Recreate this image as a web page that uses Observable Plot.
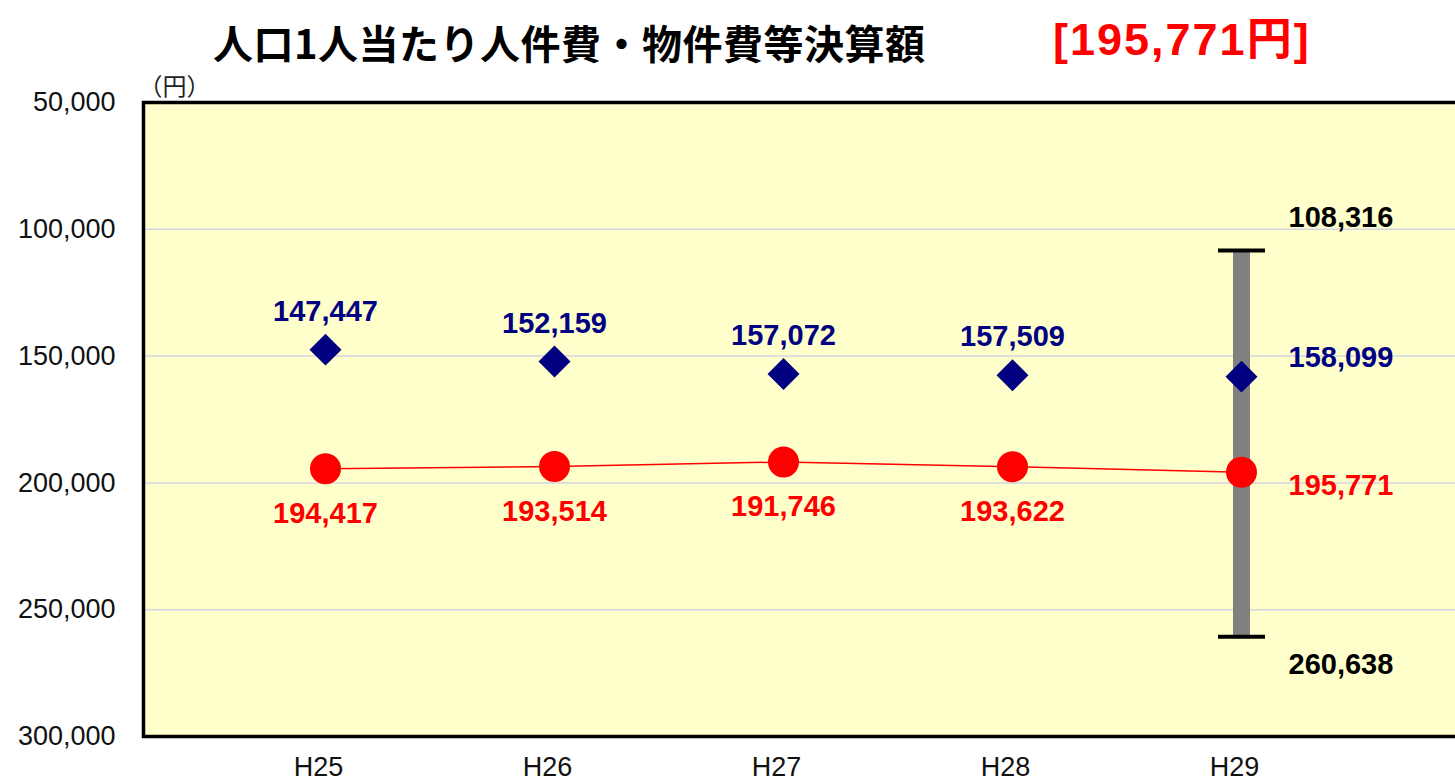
<!DOCTYPE html>
<html>
<head>
<meta charset="utf-8">
<script src="https://cdn.jsdelivr.net/npm/d3@7"></script>
<script src="https://cdn.jsdelivr.net/npm/@observablehq/plot@0.6"></script>
<style>
  body { margin: 0; background: #ffffff; }
  #wrap { width: 1455px; height: 784px; overflow: hidden; position: relative; }
  #header { position: relative; width: 1455px; height: 50px; }
  #title { position: absolute; left: 213px; top: 21px; font: bold 40px/42px "Noto Sans CJK JP", sans-serif; color: #000; white-space: nowrap; letter-spacing: 0.5px; }
  #sub { position: absolute; left: 1053px; top: 16px; font: bold 45px/48px "Liberation Sans", "Noto Sans CJK JP", sans-serif; color: #ff0000; white-space: nowrap; letter-spacing: 2px; }
  #chart svg { display: block; }
</style>
</head>
<body>
<div id="wrap">
  <div id="header">
    <div id="title">人口1人当たり人件費・物件費等決算額</div>
    <div id="sub">[195,771円]</div>
  </div>
  <div id="chart"></div>
</div>
<script>
// ---- data ----
const years = ["H25", "H26", "H27", "H28", "H29"];
const avgValues = [147447, 152159, 157072, 157509, 158099];   // navy diamonds
const cityValues = [194417, 193514, 191746, 193622, 195771];  // red circles
const rangeYears = ["H29"];
const rangeMin = [108316];
const rangeMax = [260638];
const yTicks = [50000, 100000, 150000, 200000, 250000, 300000];
const gridTicks = [100000, 150000, 200000, 250000];
const unitLabel = ["（円）"];

const fmt = d3.format(",");
const avg = years.map((y, i) => ({year: y, value: avgValues[i]}));
const city = years.map((y, i) => ({year: y, value: cityValues[i]}));
const range = rangeYears.map((y, i) => ({year: y, min: rangeMin[i], max: rangeMax[i]}));
const lastYear = years[years.length - 1];
const notLast = d => d.year !== lastYear;
const isLast = d => d.year === lastYear;

const capSymbol = { draw(context) { context.rect(-23.5, -2, 47, 4); } };

const numFont = "'Liberation Sans', Arial, sans-serif";

const chart = Plot.plot({
  width: 1455,
  height: 734,
  marginTop: 52,
  marginBottom: 48,
  marginLeft: 143,
  marginRight: -3,
  style: { fontFamily: numFont, fontSize: "27px", color: "#111", background: "transparent" },
  x: { type: "point", domain: years, range: [323, 1242], padding: 0 },
  y: { domain: [50000, 300000], reverse: true },
  marks: [
    Plot.frame({ fill: "#ffffcc", stroke: "none" }),
    Plot.gridY(gridTicks, { stroke: "#d4d4e4", strokeOpacity: 1, strokeWidth: 1.5 }),
    Plot.frame({ stroke: "#000", strokeWidth: 3.5 }),
    Plot.axisY(yTicks, { tickSize: 0, tickPadding: 28, tickFormat: fmt, label: null, fontSize: 27, fill: "#111" }),
    Plot.axisX({ tickSize: 0, tickPadding: 20, dx: -7, label: null, fontSize: 27, fill: "#111" }),
    Plot.text(unitLabel, { frameAnchor: "top-left", dx: -5, dy: -25, textAnchor: "start", fontSize: 24, fill: "#222", fontFamily: "'Noto Sans CJK JP', sans-serif" }),
    // range bar
    Plot.ruleX(range, { x: "year", y1: "min", y2: "max", stroke: "#808080", strokeWidth: 17 }),
    Plot.dot(range, { x: "year", y: "min", symbol: capSymbol, fill: "#000", stroke: "none" }),
    Plot.dot(range, { x: "year", y: "max", symbol: capSymbol, fill: "#000", stroke: "none" }),
    Plot.text(range, { x: "year", y: "min", text: d => fmt(d.min), dx: 47, dy: -33, textAnchor: "start", fill: "#000", fontWeight: "bold", fontSize: 29 }),
    Plot.text(range, { x: "year", y: "max", text: d => fmt(d.max), dx: 47, dy: 28, textAnchor: "start", fill: "#000", fontWeight: "bold", fontSize: 29 }),
    // city line + dots
    Plot.line(city, { x: "year", y: "value", stroke: "#ff0000", strokeWidth: 1.5 }),
    Plot.dot(city, { x: "year", y: "value", r: 15.5, fill: "#ff0000", stroke: "none" }),
    // average diamonds
    Plot.dot(avg, { x: "year", y: "value", symbol: "diamond2", r: 14.4, fill: "#000080", stroke: "none" }),
    // labels
    Plot.text(avg, { filter: notLast, x: "year", y: "value", text: d => fmt(d.value), dy: -38, fill: "#000080", fontWeight: "bold", fontSize: 29 }),
    Plot.text(city, { filter: notLast, x: "year", y: "value", text: d => fmt(d.value), dy: 45, fill: "#ff0000", fontWeight: "bold", fontSize: 29 }),
    Plot.text(avg, { filter: isLast, x: "year", y: "value", text: d => fmt(d.value), dx: 47, dy: -19, textAnchor: "start", fill: "#000080", fontWeight: "bold", fontSize: 29 }),
    Plot.text(city, { filter: isLast, x: "year", y: "value", text: d => fmt(d.value), dx: 47, dy: 14, textAnchor: "start", fill: "#ff0000", fontWeight: "bold", fontSize: 29 })
  ]
});
document.getElementById("chart").appendChild(chart);
</script>
</body>
</html>
